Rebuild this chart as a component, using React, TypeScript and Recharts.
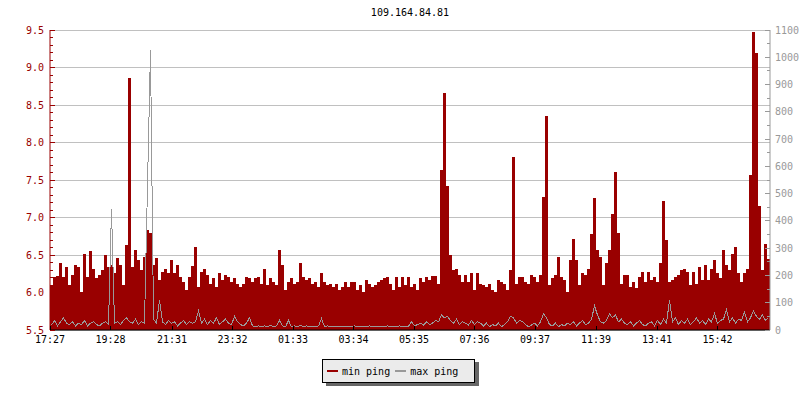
import React from "react";
import { ComposedChart, Bar, Line, XAxis, YAxis, CartesianGrid, Legend } from "recharts";

const title = "109.164.84.81";
const seriesNames = ["min ping", "max ping"];

// one sample every 6 minutes, 240 samples = 24h starting 17:27
const sampleStep = 6;

// left axis (ms)
const minPing = [
  6.10, 6.21, 6.22, 6.39, 6.21, 6.34, 6.10, 6.23, 6.37, 6.34, 6.01, 6.51,
  6.21, 6.55, 6.32, 6.19, 6.23, 6.30, 6.50, 6.34, 6.37, 6.26, 6.46, 6.37,
  6.10, 6.63, 8.86, 6.34, 6.57, 6.43, 6.30, 6.48, 6.83, 6.79, 6.37, 6.46,
  6.17, 6.28, 6.32, 6.26, 6.43, 6.26, 6.37, 6.21, 6.14, 6.03, 6.21, 6.35,
  6.61, 6.08, 6.28, 6.32, 6.23, 6.12, 6.19, 6.08, 6.26, 6.17, 6.23, 6.21,
  6.14, 6.19, 6.12, 6.08, 6.12, 6.21, 6.19, 6.14, 6.19, 6.21, 6.12, 6.32,
  6.10, 6.19, 6.14, 6.10, 6.57, 6.37, 6.03, 6.14, 6.19, 6.12, 6.14, 6.39,
  6.21, 6.17, 6.19, 6.12, 6.14, 6.08, 6.26, 6.14, 6.10, 6.12, 6.08, 6.12,
  6.03, 6.08, 6.14, 6.08, 6.14, 6.14, 6.03, 6.10, 6.01, 6.17, 6.12, 6.08,
  6.10, 6.14, 6.17, 6.19, 6.21, 6.12, 6.03, 6.21, 6.08, 6.21, 6.10, 6.21,
  6.08, 6.12, 6.03, 6.19, 6.14, 6.21, 6.17, 6.22, 6.22, 6.12, 7.64, 8.66,
  7.42, 6.50, 6.30, 6.32, 6.23, 6.14, 6.23, 6.14, 6.26, 6.03, 6.26, 6.12,
  6.10, 6.08, 6.12, 6.03, 6.01, 6.17, 6.14, 6.12, 6.03, 6.30, 7.81, 6.12,
  6.21, 6.21, 6.14, 6.12, 6.23, 6.21, 6.14, 6.23, 7.28, 8.36, 6.10, 6.19,
  6.23, 6.48, 6.21, 6.17, 6.01, 6.43, 6.71, 6.43, 6.10, 6.26, 6.23, 6.32,
  6.78, 7.26, 6.57, 6.48, 6.10, 6.39, 6.57, 7.05, 7.61, 6.80, 6.12, 6.23,
  6.23, 6.08, 6.14, 6.06, 6.21, 6.28, 6.14, 6.28, 6.17, 6.21, 6.14, 6.39,
  7.22, 6.70, 6.14, 6.17, 6.21, 6.23, 6.30, 6.32, 6.28, 6.10, 6.28, 6.12,
  6.34, 6.17, 6.37, 6.17, 6.32, 6.43, 6.26, 6.19, 6.57, 6.37, 6.30, 6.52,
  6.61, 6.26, 6.14, 6.26, 6.32, 7.57, 9.48, 9.20, 7.15, 6.30, 6.65, 6.45,
];

// right axis (ms)
const maxPing = [
  20, 35, 15, 30, 45, 25, 20, 30, 15, 25, 20, 35,
  15, 25, 30, 20, 15, 25, 30, 20, 443, 25, 30, 20,
  35, 45, 30, 25, 40, 20, 30, 25, 530, 1025, 40, 25,
  110, 30, 20, 35, 25, 30, 15, 25, 35, 20, 30, 25,
  30, 70, 25, 40, 20, 35, 25, 45, 20, 30, 40, 25,
  20, 50, 30, 20, 15, 25, 45, 15, 12, 15, 12, 15,
  12, 18, 12, 15, 35, 15, 12, 35, 12, 15, 12, 18,
  12, 15, 12, 14, 12, 15, 42, 12, 15, 12, 14, 12,
  12, 14, 12, 13, 12, 15, 12, 12, 14, 12, 15, 12,
  13, 12, 14, 12, 15, 12, 14, 12, 15, 13, 12, 14,
  30, 15, 20, 25, 18, 30, 20, 25, 35, 30, 55, 45,
  50, 35, 25, 40, 20, 30, 25, 18, 35, 20, 30, 25,
  15, 25, 12, 20, 15, 25, 12, 20, 30, 50, 45, 25,
  35, 30, 20, 12, 18, 25, 15, 30, 60, 45, 20, 15,
  25, 12, 20, 15, 25, 20, 30, 15, 25, 35, 20, 25,
  40, 88, 55, 30, 25, 35, 60, 45, 55, 30, 40, 25,
  20, 30, 15, 25, 35, 20, 15, 25, 30, 15, 35, 20,
  40, 25, 110, 30, 45, 20, 35, 25, 40, 20, 30, 45,
  25, 35, 20, 40, 30, 60, 25, 35, 40, 75, 30, 45,
  25, 40, 35, 65, 30, 45, 70, 50, 40, 55, 35, 45,
];

// minutes after 17:27
const timeTicks = [0, 121, 244, 365, 486, 607, 728, 849, 970, 1092, 1214, 1335];
const timeLabels = ["17:27", "19:28", "21:31", "23:32", "01:33", "03:34", "05:35", "07:36", "09:37", "11:39", "13:41", "15:42"];

const leftMajor = [5.5, 6.0, 6.5, 7.0, 7.5, 8.0, 8.5, 9.0, 9.5];

const RED = "#990000";
const GREY = "#999999";
const FONT = "DejaVu Sans Mono";

const data = minPing.map((v, i) => ({ t: i * sampleStep + sampleStep / 2, min: v, max: maxPing[i] }));

const leftTicks: number[] = [];
for (let k = 0; k <= 40; k++) leftTicks.push(Math.round(55 + k) / 10);
const rightTicks: number[] = [];
for (let k = 0; k <= 22; k++) rightTicks.push(k * 50);

const LeftTick = (props: any) => {
  const { x, y, payload } = props;
  const v = payload.value;
  const major = Math.round(v * 10) % 5 === 0;
  const ax = x + 6;
  return (
    <g>
      <line x1={ax} x2={ax + (major ? 5 : 3)} y1={y} y2={y} stroke={RED} shapeRendering="crispEdges" />
      {major && (
        <text x={x} y={y} dy="0.35em" textAnchor="end" fill={RED} fontFamily={FONT} fontSize={10}>
          {v.toFixed(1)}
        </text>
      )}
    </g>
  );
};

const RightTick = (props: any) => {
  const { x, y, payload } = props;
  const v = payload.value;
  const major = v % 100 === 0;
  const ax = x - 5;
  return (
    <g>
      <line x1={ax} x2={ax - (major ? 5 : 3)} y1={y} y2={y} stroke={GREY} shapeRendering="crispEdges" />
      {major && (
        <text x={x} y={y} dy="0.35em" textAnchor="start" fill={GREY} fontFamily={FONT} fontSize={10}>
          {v}
        </text>
      )}
    </g>
  );
};

const TimeTick = (props: any) => {
  const { x, y, payload } = props;
  const ay = y - 6;
  const label = timeLabels[timeTicks.indexOf(payload.value)];
  return (
    <g>
      <line x1={x} x2={x} y1={ay} y2={ay - 4} stroke="#000" shapeRendering="crispEdges" />
      <text x={x} y={y} dy="0.71em" textAnchor="middle" fill="#000" fontFamily={FONT} fontSize={10}>
        {label}
      </text>
    </g>
  );
};

const LegendBox = (props: any) => {
  const items = [...(props.payload || [])].sort(
    (a: any, b: any) => seriesNames.indexOf(a.value) - seriesNames.indexOf(b.value)
  );
  return (
    <div
      style={{
        boxSizing: "border-box",
        width: 153,
        height: 24,
        border: "1px solid #000",
        background: "#ebebeb",
        boxShadow: "4px 3px 0 #666666",
        display: "flex",
        alignItems: "center",
        paddingLeft: 4,
        fontFamily: FONT,
        fontSize: 10,
        color: "#000",
      }}
    >
      {items.map((it: any, i: number) => (
        <span key={i} style={{ display: "flex", alignItems: "center", marginRight: 5 }}>
          <span style={{ display: "inline-block", width: 11, height: 2, background: it.color, marginRight: 4 }} />
          {it.value}
        </span>
      ))}
    </div>
  );
};

export default function App() {
  return (
    <div style={{ position: "absolute", left: 0, top: 0, width: 800, height: 400, background: "#fff" }}>
      <div
        style={{
          position: "absolute",
          left: 0,
          top: 7,
          width: 820,
          textAlign: "center",
          fontFamily: FONT,
          fontSize: 10,
          lineHeight: "12px",
          color: "#000",
        }}
      >
        {title}
      </div>
      <ComposedChart width={800} height={400} data={data} margin={{ top: 30, right: 0, bottom: 50, left: 0 }}>
        <CartesianGrid
          yAxisId="left"
          vertical={false}
          horizontalValues={leftMajor}
          stroke="#c0c0c0"
          shapeRendering="crispEdges"
        />
        <Bar
          yAxisId="left"
          dataKey="min"
          name={seriesNames[0]}
          fill={RED}
          barSize={3}
          shapeRendering="crispEdges"
          isAnimationActive={false}
        />
        <Line
          yAxisId="right"
          type="linear"
          dataKey="max"
          name={seriesNames[1]}
          stroke={GREY}
          strokeWidth={1}
          dot={false}
          shapeRendering="crispEdges"
          isAnimationActive={false}
        />
        <XAxis
          dataKey="t"
          type="number"
          domain={[0, 1440]}
          ticks={timeTicks}
          interval={0}
          height={20}
          tickSize={0}
          tickMargin={6}
          tickLine={false}
          axisLine={{ stroke: "#000" }}
          tick={<TimeTick />}
        />
        <YAxis
          yAxisId="left"
          orientation="left"
          type="number"
          domain={[5.5, 9.5]}
          ticks={leftTicks}
          interval={0}
          width={50}
          tickSize={0}
          tickMargin={6}
          tickLine={false}
          axisLine={{ stroke: RED }}
          tick={<LeftTick />}
        />
        <YAxis
          yAxisId="right"
          orientation="right"
          type="number"
          domain={[0, 1100]}
          ticks={rightTicks}
          interval={0}
          width={30}
          tickSize={0}
          tickMargin={5}
          tickLine={false}
          axisLine={{ stroke: GREY }}
          tick={<RightTick />}
        />
        <Legend
          layout="horizontal"
          verticalAlign="middle"
          align="center"
          wrapperStyle={{ left: 322, top: 359, width: 153, height: 24 }}
          content={<LegendBox />}
        />
      </ComposedChart>
    </div>
  );
}
